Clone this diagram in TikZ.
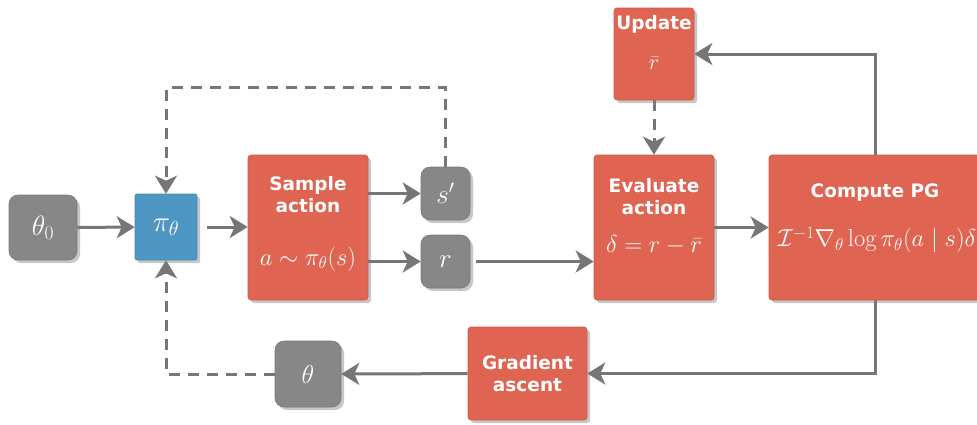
\RequirePackage{fix-cm}
\documentclass[tikz,border=0pt]{standalone}
\usepackage{fontspec}
\setsansfont{DejaVu Sans}
\usetikzlibrary{arrows.meta,shadows}
\definecolor{boxred}{HTML}{DF6452}
\definecolor{boxblue}{HTML}{4F97C3}
\definecolor{boxgray}{HTML}{878787}
\definecolor{linegray}{HTML}{767676}
\tikzset{
  boxshadow/.style={drop shadow={shadow xshift=3pt,shadow yshift=-3pt,fill=black!22,opacity=1}},
  redbox/.style={rectangle,fill=boxred,draw=boxred!90!black,line width=0.6pt,rounded corners=3pt,boxshadow,inner sep=0pt},
  bluebox/.style={rectangle,fill=boxblue,draw=boxblue!90!black,line width=0.6pt,rounded corners=2pt,boxshadow,inner sep=0pt,text=white},
  graybox/.style={rectangle,fill=boxgray,draw=boxgray!90!black,line width=0.6pt,rounded corners=9pt,boxshadow,inner sep=0pt,text=white},
  ttl/.style={text=white,align=center,font=\sffamily\bfseries\fontsize{18.5}{22}\selectfont,inner sep=0pt},
  mtx/.style={text=white,font=\fontsize{24.5}{28}\selectfont,inner sep=0pt},
  arr/.style={draw=linegray,line width=3pt,-{Stealth[length=18pt,width=22pt,inset=5pt]}},
  darr/.style={arr,dash pattern=on 11pt off 8pt},
}
\begin{document}
\begin{tikzpicture}[x=1pt,y=-1pt]
\useasboundingbox (0,0) rectangle (977,424);
% boxes
\node[graybox,font=\fontsize{28}{32}\selectfont,minimum width=68pt,minimum height=65pt] (theta0) at (43,227.5) {$\theta_0$};
\node[bluebox,font=\fontsize{29}{32}\selectfont,minimum width=62pt,minimum height=66pt] (pi) at (166,227) {$\pi_\theta$};
\node[redbox,minimum width=120pt,minimum height=145pt] (sample) at (308,227.5) {};
\node[graybox,minimum width=49pt,minimum height=53pt,font=\fontsize{27}{30}\selectfont] (s1) at (445.5,193.5) {$s'$};
\node[graybox,minimum width=49pt,minimum height=53pt,font=\fontsize{27}{30}\selectfont] (r) at (445.5,261.5) {$r$};
\node[redbox,minimum width=80pt,minimum height=92pt] (update) at (654,54) {};
\node[redbox,minimum width=120pt,minimum height=145pt] (eval) at (654,227.5) {};
\node[redbox,minimum width=212pt,minimum height=145pt] (compute) at (875,227.5) {};
\node[redbox,minimum width=119pt,minimum height=93pt] (grad) at (527.5,373.5) {};
\node[graybox,font=\fontsize{26}{30}\selectfont,minimum width=66pt,minimum height=66pt] (theta) at (308,374) {$\theta$};
% texts
\node[ttl] (sampleT) at (308,195) {Sample\\action};
\node[mtx] (sampleM) at (308,259) {$a\sim\pi_\theta(s)$};
\node[ttl] (updateT) at (654,24) {Update};
\node[mtx,font=\fontsize{22}{26}\selectfont] (updateM) at (654,63) {$\bar r$};
\node[ttl] (evalT) at (654,197) {Evaluate\\action};
\node[mtx] (evalM) at (654,245) {$\delta=r-\bar r$};
\node[ttl] (computeT) at (875,193) {Compute PG};
\node[mtx] (computeM) at (877,240) {$\mathcal{I}^{-1}\nabla_\theta\log\pi_\theta(a\mid s)\delta$};
\node[ttl] (gradT) at (527.5,373.5) {Gradient\\ascent};
% connectors
\draw[arr] (theta0) -- (pi);
\draw[arr,shorten <=10pt] (pi.east) -- (pi.east -| sample.west);
\draw[arr] (sample.east |- s1) -- (s1.west);
\draw[arr] (sample.east |- r) -- (r.west);
\draw[arr,shorten <=6pt] (r.east) -- (r.east -| eval.west);
\draw[darr] (s1.north) -- ++(0,-79) -| (pi.north);
\draw[darr] (theta.west) -| (pi.south);
\draw[darr] (update) -- (eval);
\draw[arr] (eval) -- (compute);
\draw[arr] (compute.north) |- (update.east);
\draw[arr] (compute.south) |- (grad.east);
\draw[arr] (grad) -- (theta);
\end{tikzpicture}
\end{document}
